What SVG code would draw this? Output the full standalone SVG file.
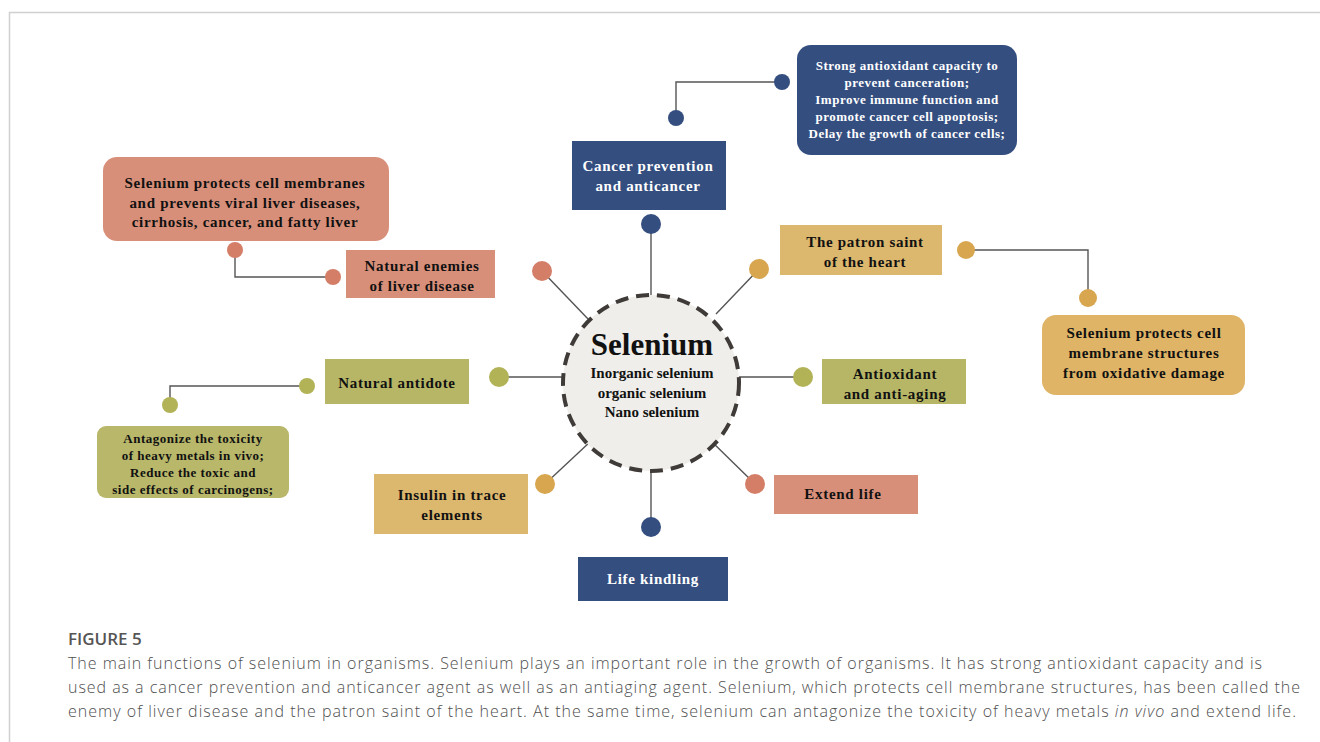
<svg xmlns="http://www.w3.org/2000/svg" width="1320" height="742" viewBox="0 0 1320 742">
<style>
.t{font-family:"Liberation Serif","Times New Roman",serif;font-weight:bold;text-anchor:middle;fill:#111}
.w{fill:#fff}
.s15{font-size:15px;letter-spacing:0.7px}
.s13{font-size:13px;letter-spacing:0.5px}
.c15{font-size:15px}
.cap{font-family:"Open Sans","Liberation Sans",sans-serif;font-size:16px;fill:#4f4f4f;font-weight:300}
.fig{font-family:"Open Sans","Liberation Sans",sans-serif;font-size:17px;fill:#555;font-weight:600}
.ln{stroke:#555;stroke-width:1.4;fill:none}
.blue{fill:#344e80}
.sal{fill:#d88f79}
.gold{fill:#dcb76e}
.olive{fill:#b6b666}
.dblue{fill:#344e80}
.dsal{fill:#d47e68}
.dgold{fill:#d7a64f}
.doli{fill:#b2b257}
</style>
<rect width="1320" height="742" fill="#fff"/>
<path d="M9.5 742 V12.5 H1320" stroke="#d0d0d0" stroke-width="1.5" fill="none"/>

<g id="connectors">
<line class="ln" x1="651" y1="295" x2="651" y2="224"/>
<line class="ln" x1="589" y1="320" x2="542" y2="271"/>
<line class="ln" x1="716" y1="314" x2="759" y2="269"/>
<line class="ln" x1="563" y1="377" x2="499" y2="377"/>
<line class="ln" x1="739" y1="377" x2="803" y2="377"/>
<line class="ln" x1="591" y1="441" x2="545" y2="484"/>
<line class="ln" x1="651" y1="471" x2="651" y2="527"/>
<line class="ln" x1="707" y1="437" x2="755" y2="484"/>
<polyline class="ln" points="676,118 676,82 782,82"/>
<polyline class="ln" points="333,277 235,277 235,250"/>
<polyline class="ln" points="966,250 1088,250 1088,298"/>
<polyline class="ln" points="307,386 170,386 170,405"/>
</g>

<g id="center">
<circle cx="651" cy="383" r="88" fill="#efeeea" stroke="#3f3b38" stroke-width="4" stroke-dasharray="13 8"/>
<text class="t" x="652" y="355" font-size="31">Selenium</text>
<text class="t c15" x="652" y="378">Inorganic selenium</text>
<text class="t c15" x="652" y="398">organic selenium</text>
<text class="t c15" x="652" y="417">Nano selenium</text>
</g>

<g id="cancer">
<circle class="dblue" cx="651" cy="224" r="10"/>
<rect class="blue" x="572" y="141" width="154" height="69"/>
<text class="t w s15" x="648" y="171">Cancer prevention</text>
<text class="t w s15" x="648" y="191">and anticancer</text>
</g>
<g id="cancer-detail">
<circle class="dblue" cx="676" cy="118" r="8"/>
<circle class="dblue" cx="782" cy="82" r="8"/>
<rect class="blue" x="797" y="45" width="220" height="110" rx="14"/>
<text class="t w s13" x="907" y="70">Strong antioxidant capacity to</text>
<text class="t w s13" x="907" y="87">prevent canceration;</text>
<text class="t w s13" x="907" y="104">Improve immune function and</text>
<text class="t w s13" x="907" y="121">promote cancer cell apoptosis;</text>
<text class="t w s13" x="907" y="138">Delay the growth of cancer cells;</text>
</g>

<g id="liver">
<circle class="dsal" cx="542" cy="271" r="10"/>
<rect class="sal" x="346" y="250" width="149" height="48"/>
<text class="t s15" x="422" y="271">Natural enemies</text>
<text class="t s15" x="422" y="291">of liver disease</text>
</g>
<g id="liver-detail">
<circle class="dsal" cx="333" cy="277" r="8"/>
<circle class="dsal" cx="235" cy="250" r="8"/>
<rect class="sal" x="103" y="157" width="286" height="84" rx="14"/>
<text class="t s15" x="245" y="188">Selenium protects cell membranes</text>
<text class="t s15" x="245" y="208">and prevents viral liver diseases,</text>
<text class="t s15" x="245" y="227">cirrhosis, cancer, and fatty liver</text>
</g>

<g id="heart">
<circle class="dgold" cx="759" cy="269" r="10"/>
<rect class="gold" x="780" y="225" width="162" height="50"/>
<text class="t s15" x="865" y="247">The patron saint</text>
<text class="t s15" x="865" y="267">of the heart</text>
</g>
<g id="heart-detail">
<circle class="dgold" cx="966" cy="250" r="9"/>
<circle class="dgold" cx="1088" cy="298" r="9"/>
<rect fill="#dfb466" x="1042" y="315" width="203" height="80" rx="14"/>
<text class="t s15" x="1144" y="338">Selenium protects cell</text>
<text class="t s15" x="1144" y="358">membrane structures</text>
<text class="t s15" x="1144" y="378">from oxidative damage</text>
</g>

<g id="antidote">
<circle class="doli" cx="499" cy="377" r="10"/>
<rect class="olive" x="325" y="359" width="144" height="45"/>
<text class="t s15" x="397" y="388">Natural antidote</text>
</g>
<g id="antidote-detail">
<circle class="doli" cx="307" cy="386" r="8"/>
<circle class="doli" cx="170" cy="405" r="8"/>
<rect fill="#b8b76a" x="97" y="426" width="192" height="72" rx="9"/>
<text class="t s13" x="193" y="443">Antagonize the toxicity</text>
<text class="t s13" x="193" y="460">of heavy metals in vivo;</text>
<text class="t s13" x="193" y="477">Reduce the toxic and</text>
<text class="t s13" x="193" y="494">side effects of carcinogens;</text>
</g>

<g id="antioxidant">
<circle class="doli" cx="803" cy="377" r="10"/>
<rect class="olive" x="822" y="359" width="144" height="45"/>
<text class="t s15" x="895" y="379">Antioxidant</text>
<text class="t s15" x="895" y="399">and anti-aging</text>
</g>

<g id="insulin">
<circle class="dgold" cx="545" cy="484" r="10"/>
<rect class="gold" x="374" y="474" width="154" height="60"/>
<text class="t s15" x="452" y="500">Insulin in trace</text>
<text class="t s15" x="452" y="520">elements</text>
</g>

<g id="life-kindling">
<circle class="dblue" cx="651" cy="527" r="10"/>
<rect class="blue" x="578" y="557" width="150" height="44"/>
<text class="t w s15" x="653" y="584">Life kindling</text>
</g>

<g id="extend-life">
<circle class="dsal" cx="755" cy="484" r="10"/>
<rect class="sal" x="774" y="475" width="144" height="39"/>
<text class="t s15" x="843" y="499">Extend life</text>
</g>

<g id="caption">
<text class="fig" x="68" y="645">FIGURE 5</text>
<text class="cap" x="68" y="669" textLength="1194" lengthAdjust="spacing">The main functions of selenium in organisms. Selenium plays an important role in the growth of organisms. It has strong antioxidant capacity and is</text>
<text class="cap" x="68" y="693" textLength="1232" lengthAdjust="spacing">used as a cancer prevention and anticancer agent as well as an antiaging agent. Selenium, which protects cell membrane structures, has been called the</text>
<text class="cap" x="68" y="717" textLength="1228" lengthAdjust="spacing">enemy of liver disease and the patron saint of the heart. At the same time, selenium can antagonize the toxicity of heavy metals <tspan font-style="italic">in vivo</tspan> and extend life.</text>
</g>
</svg>
